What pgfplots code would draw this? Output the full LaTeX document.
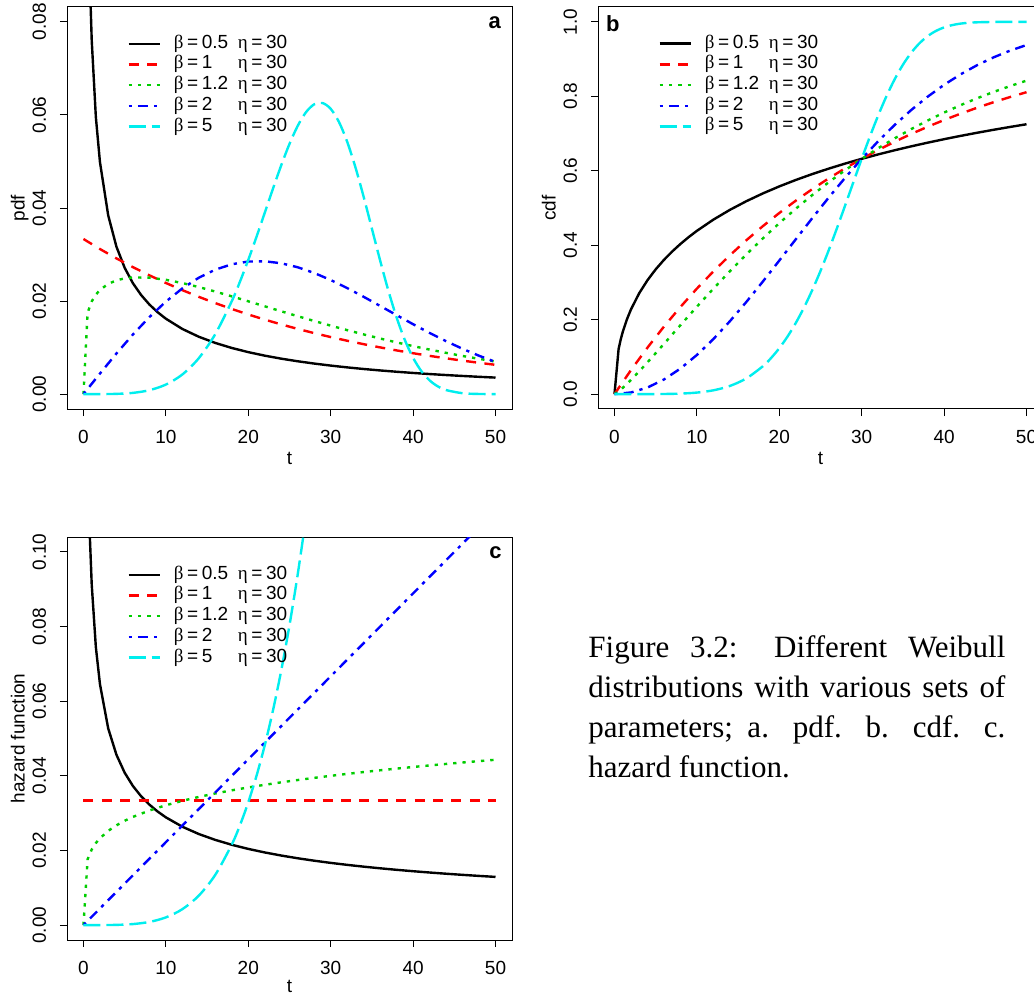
\documentclass[border=0pt]{standalone}
\usepackage{pgfplots}
\pgfplotsset{compat=1.18}
\usepackage{pgfplotstable}
\usepackage{fontspec}
\setmainfont{Liberation Sans}
\newfontfamily\grk{Liberation Serif}
\newfontfamily\capfont{Liberation Serif}

\definecolor{rred}{RGB}{255,0,0}
\definecolor{rgreen}{RGB}{0,205,0}
\definecolor{rblue}{RGB}{0,0,255}
\definecolor{rcyan}{RGB}{0,238,238}

% Weibull, eta = 30: columns t, pdf, cdf, hazard
\pgfplotstableread{
t pdf cdf haz
0 nan 0 nan
0.5 0.113464 0.121111 0.129099
0.75 0.089993 0.146245 0.105409
1 0.076054 0.166875 0.091287
1.5 0.059601 0.200369 0.074536
2 0.049861 0.227559 0.064550
3 0.038416 0.271107 0.052705
4 0.031681 0.305908 0.045644
5 0.027141 0.335181 0.040825
6 0.023829 0.360593 0.037268
7 0.021285 0.383099 0.034503
8 0.019257 0.403336 0.032275
9 0.017596 0.421735 0.030429
10 0.016206 0.438616 0.028868
12 0.014000 0.468714 0.026352
14 0.012322 0.494966 0.024398
16 0.010995 0.518230 0.022822
18 0.009917 0.539107 0.021517
20 0.009022 0.558018 0.020412
22 0.008266 0.575286 0.019462
24 0.007618 0.591155 0.018634
26 0.007057 0.605817 0.017903
28 0.006566 0.619430 0.017252
30 0.006131 0.632121 0.016667
32 0.005745 0.643989 0.016137
34 0.005399 0.655126 0.015656
36 0.005088 0.665608 0.015215
38 0.004806 0.675497 0.014809
40 0.004549 0.684847 0.014434
42 0.004314 0.693706 0.014086
44 0.004099 0.702117 0.013762
46 0.003902 0.710115 0.013460
48 0.003719 0.717734 0.013176
50 0.003550 0.725002 0.012910
}\wbA

\pgfplotstableread{
t pdf cdf haz
0 0.033333 0 0.033333
2 0.031184 0.064493 0.033333
4 0.029172 0.124827 0.033333
6 0.027291 0.181269 0.033333
8 0.025531 0.234072 0.033333
10 0.023884 0.283469 0.033333
12 0.022344 0.329680 0.033333
14 0.020903 0.372911 0.033333
16 0.019555 0.413354 0.033333
18 0.018294 0.451188 0.033333
20 0.017114 0.486583 0.033333
22 0.016010 0.519695 0.033333
24 0.014978 0.550671 0.033333
26 0.014012 0.579649 0.033333
28 0.013108 0.606759 0.033333
30 0.012263 0.632121 0.033333
32 0.011472 0.655846 0.033333
34 0.010732 0.678042 0.033333
36 0.010040 0.698806 0.033333
38 0.009392 0.718232 0.033333
40 0.008787 0.736403 0.033333
42 0.008220 0.753403 0.033333
44 0.007690 0.769307 0.033333
46 0.007194 0.784185 0.033333
48 0.006730 0.798103 0.033333
50 0.006296 0.811124 0.033333
}\wbB

\pgfplotstableread{
t pdf cdf haz
0 0 0 0
0.5 0.017508 0.007322 0.017637
1 0.019921 0.016741 0.020260
1.5 0.021376 0.027090 0.021971
2 0.022387 0.038044 0.023272
3 0.023695 0.061147 0.025238
4 0.024454 0.085254 0.026733
5 0.024880 0.109949 0.027953
6 0.025079 0.134939 0.028991
8 0.025023 0.185125 0.030708
10 0.024572 0.234771 0.032110
12 0.023869 0.283245 0.033302
14 0.023006 0.330142 0.034345
16 0.022039 0.375201 0.035274
18 0.021010 0.418258 0.036115
20 0.019946 0.459218 0.036884
22 0.018871 0.498036 0.037594
24 0.017799 0.534704 0.038254
26 0.016744 0.569245 0.038871
28 0.015714 0.601697 0.039452
30 0.014715 0.632121 0.040000
32 0.013753 0.660583 0.040520
34 0.012831 0.687159 0.041014
36 0.011951 0.711933 0.041485
38 0.011114 0.734990 0.041937
40 0.010320 0.756417 0.042369
42 0.009571 0.776301 0.042784
44 0.008864 0.794729 0.043184
46 0.008200 0.811787 0.043570
48 0.007577 0.827558 0.043942
50 0.006994 0.842124 0.044303
}\wbC

\pgfplotstableread{
t pdf cdf haz
0 0 0 0
2 0.004425 0.004434 0.004444
4 0.008732 0.017621 0.008889
6 0.012810 0.039211 0.013333
8 0.016558 0.068642 0.017778
10 0.019885 0.105161 0.022222
12 0.022724 0.147856 0.026667
14 0.025023 0.195696 0.031111
16 0.026753 0.247568 0.035556
18 0.027907 0.302324 0.040000
20 0.028497 0.358820 0.044444
22 0.028553 0.415956 0.048889
24 0.028122 0.472708 0.053333
26 0.027262 0.528158 0.057778
28 0.026039 0.581514 0.062222
30 0.024525 0.632121 0.066667
32 0.022793 0.679469 0.071111
34 0.020914 0.723195 0.075556
36 0.018954 0.763072 0.080000
38 0.016973 0.798998 0.084444
40 0.015023 0.830987 0.088889
42 0.013147 0.859142 0.093333
44 0.011377 0.883645 0.097778
46 0.009738 0.904737 0.102222
48 0.008246 0.922695 0.106667
50 0.006909 0.937823 0.111111
}\wbD

\pgfplotstableread{
t pdf cdf haz
0 0 0 0
2 0.000003 0.000001 0.000003
4 0.000053 0.000042 0.000053
6 0.000267 0.000320 0.000267
8 0.000842 0.001348 0.000843
10 0.002050 0.004107 0.002058
12 0.004223 0.010188 0.004267
14 0.007732 0.021890 0.007905
16 0.012915 0.042233 0.013485
18 0.019984 0.074814 0.021600
19 0.024217 0.096880 0.026815
20 0.028860 0.123385 0.032922
21 0.033826 0.154705 0.040017
22 0.038990 0.191103 0.048201
23 0.044182 0.232694 0.057581
24 0.049193 0.279406 0.068267
25 0.053777 0.330938 0.080376
26 0.057665 0.386728 0.094028
27 0.060586 0.445944 0.109350
28 0.062289 0.507492 0.126472
29 0.062572 0.570047 0.145531
30 0.061313 0.632121 0.166667
31 0.058499 0.692153 0.190025
32 0.054234 0.748633 0.215756
33 0.048751 0.800214 0.244017
34 0.042389 0.845841 0.274966
35 0.035559 0.884836 0.308771
36 0.028702 0.916951 0.345600
37 0.022225 0.942367 0.385630
38 0.016458 0.961639 0.429040
39 0.011618 0.975594 0.476017
40 0.007790 0.985212 0.526749
41 0.004942 0.991500 0.581433
42 0.002955 0.995384 0.640267
43 0.001659 0.997642 0.703457
44 0.000871 0.998871 0.771213
46 0.000192 0.999792 0.921287
48 0.000031 0.999972 1.092267
50 0.000003 0.999997 1.286008
}\wbE

\newcommand{\leg}[1]{\makebox[32pt][l]{{\grk β}\hspace{1.8pt}=\hspace{1.8pt}#1}{\grk η}\hspace{1.8pt}=\hspace{1.8pt}30}

\tikzset{
  wa/.style={black, solid},
  wb/.style={rred, dash pattern=on 5pt off 4.2pt},
  wc/.style={rgreen, dash pattern=on 1.65pt off 3pt},
  wd/.style={rblue, dash pattern=on 1.65pt off 3pt on 5pt off 3pt},
  we/.style={rcyan, dash pattern=on 8.5pt off 3pt},
}

\pgfplotsset{
  rplot/.style={
    scale only axis, width=222.5pt, height=201pt,
    anchor=north west,
    xmin=-2, xmax=52, xtick={0,10,20,30,40,50},
    axis line style={line width=0.5pt},
    tick style={line width=0.5pt, black},
    tick align=outside, major tick length=3.5pt, tick pos=left,
    scaled y ticks=false,
    /pgf/number format/assume math mode=true,
    ticklabel style={font=\fontsize{9.5}{11}\selectfont},
    xticklabel style={anchor=base, yshift=-13.9pt},
    yticklabel style={xshift=-7.1pt, rotate=90, anchor=base},
    label style={font=\fontsize{9.5}{11}\selectfont},
    xlabel={t},
    xlabel style={at={(axis description cs:0.5,0)}, anchor=base, yshift=-27.5pt},
    ylabel style={at={(axis description cs:-0.0953,0.5)}, anchor=base},
    every axis plot/.append style={line width=1.2pt, no markers},
    legend image code/.code={\draw[#1] (0pt,0pt) -- (15.5pt,0pt);},
    legend cell align=left,
    legend style={at={(axis description cs:0,1)}, anchor=north west,
      xshift=30pt, yshift=-13.9pt, draw=none, fill=none, inner sep=0pt,
      font=\fontsize{9.5}{11}\selectfont, row sep=1.85pt,
      nodes={inner sep=0pt, text height=6.5pt, text depth=2pt},
      /tikz/every odd column/.style={column sep=6.5pt}},
  },
}

\begin{document}
\begin{tikzpicture}

% a: pdf
\begin{axis}[rplot, at={(33.5pt,-3.5pt)},
  ymin=-0.0032, ymax=0.0832, ytick={0,0.02,0.04,0.06,0.08},
  yticklabel style={/pgf/number format/fixed, /pgf/number format/fixed zerofill, /pgf/number format/precision=2},
  ylabel={pdf}]
\addplot[wa] table[x=t, y=pdf] {\wbA}; \addlegendentry{\leg{0.5}}
\addplot[wb] table[x=t, y=pdf] {\wbB}; \addlegendentry{\leg{1}}
\addplot[wc] table[x=t, y=pdf] {\wbC}; \addlegendentry{\leg{1.2}}
\addplot[wd] table[x=t, y=pdf] {\wbD}; \addlegendentry{\leg{2}}
\addplot[we, smooth] table[x=t, y=pdf] {\wbE}; \addlegendentry{\leg{5}}
\node[font=\fontsize{11}{12}\selectfont\bfseries] at (axis cs:49.9,0.0798) {a};
\end{axis}

% b: cdf
\begin{axis}[rplot, at={(299pt,-3.5pt)},
  ymin=-0.04, ymax=1.04, ytick={0,0.2,0.4,0.6,0.8,1},
  yticklabel style={/pgf/number format/fixed, /pgf/number format/fixed zerofill, /pgf/number format/precision=1},
  ylabel={cdf}]
\addplot[wa] table[x=t, y=cdf] {\wbA}; \addlegendentry{\leg{0.5}}
\addplot[wb] table[x=t, y=cdf] {\wbB}; \addlegendentry{\leg{1}}
\addplot[wc] table[x=t, y=cdf] {\wbC}; \addlegendentry{\leg{1.2}}
\addplot[wd] table[x=t, y=cdf] {\wbD}; \addlegendentry{\leg{2}}
\addplot[we, smooth] table[x=t, y=cdf] {\wbE}; \addlegendentry{\leg{5}}
\node[font=\fontsize{11}{12}\selectfont\bfseries] at (axis cs:-0.2,0.995) {b};
\end{axis}

% c: hazard
\begin{axis}[rplot, at={(33.5pt,-268.5pt)}, height=201.5pt,
  ymin=-0.004, ymax=0.104, ytick={0,0.02,0.04,0.06,0.08,0.1},
  yticklabel style={/pgf/number format/fixed, /pgf/number format/fixed zerofill, /pgf/number format/precision=2},
  ylabel={hazard function},
  xlabel style={yshift=1.3pt},
  legend style={yshift=-0.5pt}]
\addplot[wa] table[x=t, y=haz] {\wbA}; \addlegendentry{\leg{0.5}}
\addplot[wb] table[x=t, y=haz] {\wbB}; \addlegendentry{\leg{1}}
\addplot[wc] table[x=t, y=haz] {\wbC}; \addlegendentry{\leg{1.2}}
\addplot[wd] table[x=t, y=haz] {\wbD}; \addlegendentry{\leg{2}}
\addplot[we, smooth] table[x=t, y=haz] {\wbE}; \addlegendentry{\leg{5}}
\node[font=\fontsize{11}{12}\selectfont\bfseries] at (axis cs:50,0.0999) {c};
\end{axis}

\node[anchor=north west, inner sep=0pt, text width=208.5pt, align=justify,
  font=\capfont\fontsize{15.5}{20}\selectfont] at (294pt,-317.5pt)
  {Figure 3.2: Different Weibull\linebreak distributions with various sets of\linebreak parameters; a. pdf. b. cdf. c.\linebreak hazard function.};

\pgfresetboundingbox
\path[use as bounding box] (0pt,0pt) rectangle (517pt,-497.5pt);
\end{tikzpicture}
\end{document}
